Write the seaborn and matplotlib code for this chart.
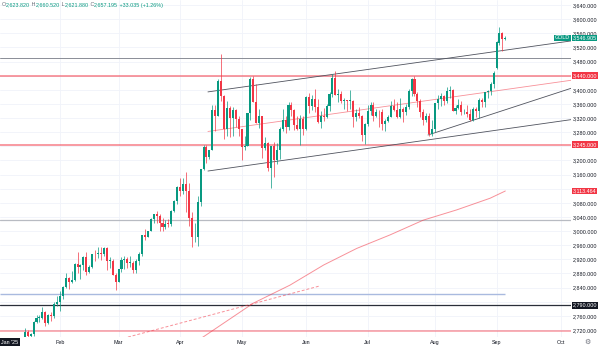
import numpy as np
import pandas as pd
import matplotlib
matplotlib.use("Agg")
import matplotlib.pyplot as plt
import matplotlib.transforms as mtransforms
import seaborn as sns

# ---------------- data (daily GOLD candles) ----------------
open_ = [
    # Jan
    2623.82, 2657.2, 2640, 2636, 2649, 2662, 2670, 2690, 2662, 2677, 2697, 2715, 2703, 2708, 2744, 2755, 2755, 2771, 2740, 2763, 2760, 2795,
    # Feb
    2798, 2815, 2842, 2866, 2856, 2861, 2908, 2897, 2904, 2928, 2883, 2898, 2935, 2934, 2938, 2935, 2951, 2915, 2916, 2876,
    # Mar
    2857, 2893, 2918, 2920, 2910, 2910, 2889, 2916, 2934, 2988, 2984, 3001, 3034, 3047, 3044, 3023, 3011, 3020, 3019, 3057, 3085,
    # Apr
    3124, 3113, 3134, 3114, 3037, 2982, 2983, 3083, 3175, 3237, 3211, 3229, 3343, 3327, 3424, 3381, 3288, 3349, 3319, 3344, 3317,
    # May
    3289, 3239, 3241, 3334, 3431, 3366, 3306, 3325, 3236, 3248, 3180, 3240, 3202, 3230, 3290, 3315, 3294, 3357, 3342, 3300, 3288, 3318,
    # Jun
    3289, 3380, 3353, 3374, 3352, 3310, 3326, 3323, 3355, 3387, 3433, 3385, 3389, 3369, 3369, 3368, 3368, 3323, 3333, 3327, 3273,
    # Jul
    3303, 3339, 3357, 3326, 3337, 3336, 3302, 3313, 3324, 3355, 3343, 3324, 3347, 3338, 3350, 3397, 3431, 3388, 3368, 3337, 3314, 3326, 3275,
    # Aug
    3289, 3362, 3373, 3381, 3368, 3397, 3398, 3341, 3348, 3356, 3336, 3336, 3332, 3315, 3347, 3339, 3372, 3365, 3393, 3397, 3417,
    # Sep
    3462, 3532, 3560, 3545,
]
high_ = [
    2660.52, 2665, 2648, 2665, 2670, 2678, 2697, 2693, 2680, 2700, 2725, 2720, 2711, 2746, 2763, 2763, 2786, 2773, 2764, 2770, 2800, 2817,
    2830, 2845, 2882, 2869, 2887, 2911, 2942, 2908, 2930, 2942, 2904, 2936, 2947, 2955, 2954, 2956, 2954, 2928, 2922, 2882,
    2894, 2928, 2930, 2927, 2930, 2914, 2922, 2940, 2990, 3005, 3001, 3038, 3045, 3057, 3047, 3036, 3032, 3033, 3060, 3087, 3128,
    3149, 3149, 3167, 3136, 3055, 3024, 3100, 3176, 3245, 3245, 3230, 3358, 3357, 3430, 3500, 3386, 3367, 3354, 3352, 3347, 3327,
    3290, 3269, 3335, 3435, 3438, 3415, 3345, 3327, 3266, 3253, 3240, 3252, 3250, 3295, 3345, 3325, 3366, 3365, 3345, 3325, 3330, 3325,
    3382, 3392, 3385, 3403, 3375, 3340, 3349, 3360, 3395, 3446, 3452, 3403, 3396, 3376, 3372, 3398, 3371, 3347, 3350, 3329, 3306,
    3358, 3365, 3366, 3345, 3343, 3346, 3317, 3330, 3369, 3375, 3366, 3377, 3352, 3361, 3402, 3433, 3439, 3394, 3373, 3345, 3334, 3334, 3315,
    3363, 3385, 3390, 3385, 3409, 3410, 3403, 3358, 3375, 3368, 3346, 3358, 3345, 3350, 3351, 3378, 3376, 3394, 3398, 3423, 3453,
    3538, 3578, 3563, 3553,
]
low_ = [
    2621.88, 2635, 2615, 2632, 2643, 2656, 2665, 2656, 2659, 2667, 2690, 2700, 2689, 2703, 2741, 2743, 2752, 2730, 2737, 2745, 2755, 2787,
    2773, 2809, 2840, 2835, 2854, 2860, 2880, 2864, 2889, 2877, 2881, 2895, 2915, 2925, 2918, 2930, 2889, 2895, 2876, 2833,
    2857, 2883, 2894, 2896, 2898, 2880, 2880, 2905, 2930, 2976, 2983, 3000, 3024, 3024, 2999, 3001, 3006, 3012, 3013, 3054, 3076,
    3100, 3105, 3054, 3015, 2956, 2970, 2957, 3072, 3174, 3194, 3204, 3229, 3283, 3325, 3367, 3260, 3270, 3266, 3268, 3295, 3269,
    3202, 3229, 3240, 3315, 3366, 3306, 3293, 3208, 3230, 3170, 3121, 3154, 3190, 3205, 3283, 3278, 3287, 3325, 3285, 3286, 3245, 3271,
    3285, 3333, 3344, 3338, 3306, 3293, 3312, 3320, 3340, 3380, 3385, 3366, 3362, 3347, 3341, 3347, 3295, 3311, 3321, 3255, 3246,
    3298, 3330, 3311, 3323, 3296, 3287, 3283, 3310, 3322, 3341, 3320, 3320, 3309, 3330, 3345, 3383, 3381, 3351, 3324, 3301, 3308, 3268, 3269,
    3281, 3345, 3355, 3357, 3363, 3376, 3341, 3331, 3346, 3330, 3331, 3323, 3311, 3311, 3324, 3321, 3351, 3351, 3377, 3386, 3405,
    3458, 3526, 3510, 3540,
]
close_ = [
    2657.195, 2640, 2636, 2649, 2662, 2670, 2690, 2662, 2677, 2697, 2715, 2703, 2708, 2744, 2755, 2755, 2771, 2740, 2763, 2760, 2795, 2798,
    2815, 2842, 2866, 2856, 2861, 2908, 2897, 2904, 2928, 2883, 2898, 2935, 2934, 2938, 2935, 2951, 2915, 2916, 2876, 2857,
    2893, 2918, 2920, 2910, 2910, 2889, 2916, 2934, 2988, 2984, 3001, 3034, 3047, 3044, 3023, 3011, 3020, 3019, 3057, 3085, 3124,
    3113, 3134, 3114, 3037, 2982, 2983, 3083, 3175, 3237, 3211, 3229, 3343, 3327, 3424, 3381, 3288, 3349, 3319, 3344, 3317, 3289,
    3239, 3241, 3334, 3431, 3366, 3306, 3325, 3236, 3248, 3180, 3240, 3202, 3230, 3290, 3315, 3294, 3357, 3342, 3300, 3288, 3318, 3289,
    3380, 3353, 3374, 3352, 3310, 3326, 3323, 3355, 3387, 3433, 3385, 3389, 3369, 3369, 3368, 3368, 3323, 3333, 3327, 3273, 3303,
    3339, 3357, 3326, 3337, 3336, 3302, 3313, 3324, 3355, 3343, 3324, 3347, 3338, 3350, 3397, 3431, 3388, 3368, 3337, 3314, 3326, 3275, 3289,
    3362, 3373, 3381, 3368, 3397, 3398, 3341, 3348, 3356, 3336, 3336, 3332, 3315, 3347, 3339, 3372, 3365, 3393, 3397, 3417, 3448,
    3534, 3560, 3545, 3546.905,
]
prev_close = 2624.16          # close before the first bar (for the header change)
symbol = "GOLD"
holidays = ["2025-04-18"]
month_labels = ["Jan '25", "Feb", "Mar", "Apr", "May", "Jun", "Jul", "Aug", "Sep", "Oct"]

# price-scale tick values (those hidden behind value boxes are left out)
price_ticks = [2720, 2760, 2840, 2880, 2920, 2960, 3000, 3040, 3080, 3160, 3200,
               3280, 3320, 3360, 3400, 3480, 3520, 3560, 3600, 3640]
grid_ticks = list(range(2720, 3641, 40))

# horizontal levels drawn on the chart
level_grey_hi = 3490
level_red = [3440, 3245]
level_grey_lo = 3030
level_blue = 2822
level_black = 2790
level_pink = 2718

# trend / channel lines  (bar index, price)
channel_upper = [(72.5, 3394), (179, 3518)]
channel_lower = [(72.5, 3170), (179, 3295)]
rising_line = [(147.6, 3272), (179, 3357)]
dashed_line = [(45.2, 2700), (110.8, 2845)]

# moving average (bar index, value)
ma_bar = [69, 71, 88, 100.5, 112, 123.3, 134.6, 146, 157.4, 168.8, 174]
ma_value = [2690, 2701, 2796, 2847, 2904, 2951, 2989, 3031, 3060, 3093, 3113.464]

# ---------------- derived ----------------
all_days = pd.bdate_range("2025-01-02", "2025-10-31")
all_days = all_days[~all_days.isin(pd.to_datetime(holidays))]
n = len(close_)
assert len(open_) == len(high_) == len(low_) == n
bars = np.arange(n)
month_pos = [int(np.argmax((all_days.month == m))) for m in range(1, 11)]

o = np.array(open_, float); c = np.array(close_, float)
h = np.array(high_, float); l = np.array(low_, float)
UP, DOWN = "#089981", "#F23645"
RED = "#F23645"
cols = np.where(c >= o, UP, DOWN)
FS = 3.9

# ---------------- figure ----------------
sns.set_theme(style="white")
plt.rcParams["font.family"] = ["Liberation Sans", "DejaVu Sans"]
W, H = 600, 347
fig = plt.figure(figsize=(W / 100, H / 100), dpi=100)
fig.patch.set_facecolor("white")
ax = fig.add_axes([0, 10 / H, 571 / W, 337 / H])
ax.set_facecolor("white")
for s in ax.spines.values():
    s.set_visible(False)

x_left, x_right = 4.5 / 2.93, 575.5 / 2.93
ax.set_xlim(x_left, x_right)
ax.set_ylim(2700.2, 3654.15)

# grid
for v in grid_ticks:
    ax.axhline(v, color="#F0F3FA", lw=0.6, zorder=0)
for p in month_pos:
    ax.axvline(p, color="#F0F3FA", lw=0.6, zorder=0)

# horizontal levels
ax.axhline(level_grey_hi, color="#8A8D96", lw=0.7, zorder=1)
for v in level_red:
    ax.axhline(v, color=RED, alpha=0.5, lw=1.4, zorder=1)
ax.axhline(level_grey_lo, color="#B8BBC2", lw=0.9, zorder=1)
ax.hlines(level_blue, x_left, bars[-1], color="#A9BADF", lw=1.0, zorder=1)
ax.axhline(level_black, color="#2A2E39", lw=0.9, zorder=1)
ax.axhline(level_pink, color=RED, alpha=0.4, lw=1.4, zorder=1)

def ray(pts, x_end):
    (x0, y0), (x1, y1) = pts
    k = (y1 - y0) / (x1 - x0)
    return [x0, x_end], [y0, y0 + k * (x_end - x0)]

ux, uy = ray(channel_upper, x_right)
lx, ly = ray(channel_lower, x_right)
ax.plot(ux, uy, color="#50535E", lw=0.6, zorder=2)
ax.plot(lx, ly, color="#50535E", lw=0.6, zorder=2)
ax.plot(ux, [(a + b) / 2 for a, b in zip(uy, ly)], color=RED, alpha=0.55, lw=0.6, zorder=2)
rx, ry = ray(rising_line, x_right)
ax.plot(rx, ry, color="#50535E", lw=0.6, zorder=2)
ax.plot([p[0] for p in dashed_line], [p[1] for p in dashed_line], color=RED, alpha=0.55,
        lw=0.7, ls=(0, (3, 2)), zorder=2)

# moving average
sns.lineplot(x=ma_bar, y=ma_value, ax=ax, color=RED, alpha=0.55, lw=0.7,
             sort=False, estimator=None, zorder=2)

# candles
body_lo = np.minimum(o, c)
body_h = np.maximum(np.abs(c - o), 2.5)
ax.vlines(bars, l, h, colors=cols, lw=0.5, zorder=3)
ax.bar(bars, body_h, bottom=body_lo, width=0.7, color=cols, linewidth=0, zorder=4)

# axes ticks
ax.yaxis.tick_right()
ax.set_yticks(price_ticks)
ax.set_yticklabels([f"{v:,.3f}" for v in price_ticks])
ax.tick_params(axis="y", length=0, pad=1.6, labelsize=FS, labelcolor="#131722")
ax.set_xticks(month_pos[1:])
ax.set_xticklabels(month_labels[1:])
ax.tick_params(axis="x", length=0, pad=2.0, labelsize=FS, labelcolor="#131722")
ax.set_xlabel(""); ax.set_ylabel("")

# first-month label in a dark box at the left edge
fig.text(1 / W, 1 - 342 / H, month_labels[0], ha="left", va="center", fontsize=FS, color="white",
         bbox=dict(boxstyle="square,pad=0.3", fc="#131722", ec="none"))

# price axis boxes
ytr = ax.get_yaxis_transform()
def price_box(val, fc):
    ax.text(1.0 + 1.5 / 571, val, f"{val:,.3f}", transform=ytr, ha="left", va="center",
            fontsize=FS, color="white", clip_on=False, zorder=10,
            bbox=dict(boxstyle="square,pad=0.15", fc=fc, ec="none"))

price_box(close_[-1], UP)
ax.text(1.0 - 1.0 / 571, close_[-1], symbol, transform=ytr, ha="right", va="center", fontsize=FS,
        color="white", clip_on=False, zorder=10, bbox=dict(boxstyle="square,pad=0.15", fc=UP, ec="none"))
for v in level_red:
    price_box(v, RED)
price_box(ma_value[-1], RED)
price_box(level_black, "#131722")

# settings glyph
fig.text(587 / W, 1 - 342 / H, "\u2699", fontsize=5, color="#6A6D78", ha="center", va="center",
         family="DejaVu Sans")

# header OHLC line
chg = close_[0] - prev_close
parts = [("O", "#6A6D78"), (f"{open_[0]:,.3f}", UP), (" H", "#6A6D78"), (f"{high_[0]:,.3f}", UP),
         (" L", "#6A6D78"), (f"{low_[0]:,.3f}", UP), (" C", "#6A6D78"), (f"{close_[0]:,.3f}", UP),
         (f" {chg:+.3f} ({chg / prev_close * 100:+.2f}%)", UP)]
anchor = fig.text(2 / W, 1 - 5 / H, parts[0][0], color=parts[0][1], fontsize=FS, va="center", ha="left")
for txt, col in parts[1:]:
    anchor = ax.annotate(txt, xy=(1, 0), xycoords=anchor, ha="left", va="bottom",
                         color=col, fontsize=FS, annotation_clip=False)

fig.savefig("out.png", dpi=100, facecolor="white")
